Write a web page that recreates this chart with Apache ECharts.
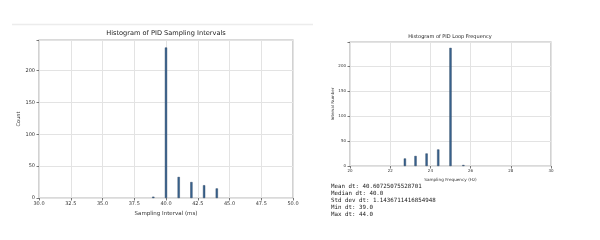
<!DOCTYPE html>
<html><head><meta charset="utf-8">
<script src="https://cdn.jsdelivr.net/npm/echarts@6/dist/echarts.min.js"></script>
<style>html,body{margin:0;padding:0;background:#fff}#c{width:600px;height:240px}</style>
</head><body><div id="c"></div>
<script>
// Data
const dtValues = [39, 40, 41, 42, 43, 44];           // sampling interval (ms)
const dtCounts = [2, 236, 33, 25, 20, 15];
const freqValues = [25.64, 25.0, 24.39, 23.81, 23.26, 22.73]; // Hz
const freqCounts = [2, 236, 33, 25, 20, 15];
const leftTitle = 'Histogram of PID Sampling Intervals';
const rightTitle = 'Histogram of PID Loop Frequency';
const leftXName = 'Sampling Interval (ms)';
const rightXName = 'Sampling Frequency (Hz)';
const leftYName = 'Count';
const rightYName = 'Interval Number';
const statLines = [
  'Mean dt: 40.60725075528701',
  'Median dt: 40.0',
  'Std dev dt: 1.1436711416854948',
  'Min dt: 39.0',
  'Max dt: 44.0'
];

const FONT = 'DejaVu Sans';
const gridLine = {show: true, lineStyle: {color: '#e3e3e3', width: 1}};
const tickStyle = {show: true, length: 2.5, lineStyle: {color: '#555', width: 0.8}};
const barColor = '#3a6591';

const chart = echarts.init(document.getElementById('c'));
chart.setOption({
  animation: false,
  backgroundColor: '#fff',
  title: [
    {text: leftTitle, left: 166, top: 30, textAlign: 'center',
     textStyle: {fontFamily: FONT, fontSize: 6.6, fontWeight: 'normal', color: '#222'}, padding: 0},
    {text: rightTitle, left: 450, top: 34, textAlign: 'center',
     textStyle: {fontFamily: FONT, fontSize: 5, fontWeight: 'normal', color: '#222'}, padding: 0}
  ],
  grid: [
    {left: 39, top: 40, width: 254, height: 158, show: true, borderColor: '#b5b5b5', borderWidth: 1.2, containLabel: false},
    {left: 350, top: 42, width: 201, height: 124, show: true, borderColor: '#b5b5b5', borderWidth: 1.2, containLabel: false}
  ],
  xAxis: [
    {type: 'value', gridIndex: 0, min: 30, max: 50, interval: 2.5,
     name: leftXName, nameLocation: 'middle', nameGap: 12,
     nameTextStyle: {fontFamily: FONT, fontSize: 5.5, color: '#333'},
     axisLine: {show: false}, axisTick: tickStyle, splitLine: gridLine,
     axisLabel: {fontFamily: FONT, fontSize: 5, color: '#333', margin: 3, formatter: v => v.toFixed(1)}},
    {type: 'value', gridIndex: 1, min: 20, max: 30, interval: 2,
     name: rightXName, nameLocation: 'middle', nameGap: 10,
     nameTextStyle: {fontFamily: FONT, fontSize: 4.2, color: '#333'},
     axisLine: {show: false}, axisTick: tickStyle, splitLine: gridLine,
     axisLabel: {fontFamily: FONT, fontSize: 4, color: '#333', margin: 3, formatter: v => String(v)}}
  ],
  yAxis: [
    {type: 'value', gridIndex: 0, min: 0, max: 247.8, interval: 50,
     name: leftYName, nameLocation: 'middle', nameGap: 17, nameRotate: 90,
     nameTextStyle: {fontFamily: FONT, fontSize: 5, color: '#333'},
     axisLine: {show: false}, axisTick: tickStyle, splitLine: gridLine,
     axisLabel: {fontFamily: FONT, fontSize: 5, color: '#333', margin: 4,
       formatter: v => (v % 50 === 0 ? String(v) : '')}},
    {type: 'value', gridIndex: 1, min: 0, max: 247.8, interval: 50,
     name: rightYName, nameLocation: 'middle', nameGap: 14, nameRotate: 90,
     nameTextStyle: {fontFamily: FONT, fontSize: 4, color: '#333'},
     axisLine: {show: false}, axisTick: tickStyle, splitLine: gridLine,
     axisLabel: {fontFamily: FONT, fontSize: 4, color: '#333', margin: 4,
       formatter: v => (v % 50 === 0 ? String(v) : '')}}
  ],
  series: [
    {type: 'bar', xAxisIndex: 0, yAxisIndex: 0, barWidth: 2.2,
     itemStyle: {color: barColor, borderColor: '#1d3554', borderWidth: 0.4},
     data: dtValues.map((v, i) => [v, dtCounts[i]])},
    {type: 'bar', xAxisIndex: 1, yAxisIndex: 1, barWidth: 2.2,
     itemStyle: {color: barColor, borderColor: '#1d3554', borderWidth: 0.4},
     data: freqValues.map((v, i) => [v, freqCounts[i]])}
  ],
  graphic: [
    {type: 'line', shape: {x1: 12, y1: 24.5, x2: 313, y2: 24.5}, style: {stroke: '#ececec', lineWidth: 1.5}, silent: true},
    ...statLines.map((t, i) => ({
      type: 'text', left: 331, top: 183 + i * 7,
      style: {text: t, font: '5.8px "DejaVu Sans Mono"', fill: '#1a1a1a'}
    }))
  ]
});
</script></body></html>
